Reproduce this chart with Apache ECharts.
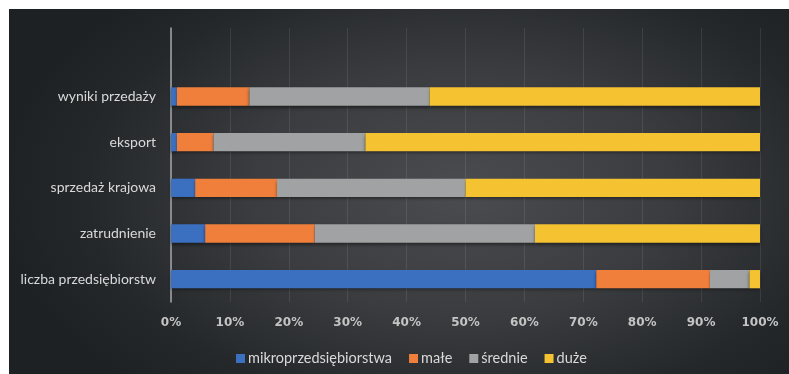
<!DOCTYPE html>
<html><head><meta charset="utf-8">
<script src="https://cdn.jsdelivr.net/npm/echarts@6/dist/echarts.min.js"></script>
<style>
html,body{margin:0;padding:0;background:#fff;}
#bg{position:absolute;left:9px;top:9px;width:780px;height:365px;
background:radial-gradient(ellipse 60% 75% at 58% 50%, #4a4c4f 0%, #3a3c3f 45%, #25282b 80%, #1d2124 100%);}
#chart{position:absolute;left:0;top:0;width:789px;height:374px;}
</style></head>
<body>
<div id="bg"></div>
<div id="chart"></div>
<script>
var categories = ['liczba przedsiębiorstw', 'zatrudnienie', 'sprzedaż krajowa', 'eksport', 'wyniki przedaży'];
var seriesNames = ['mikroprzedsiębiorstwa', 'małe', 'średnie', 'duże'];
var mikro   = [72.2, 5.8, 4.1, 1.0, 1.0];
var male    = [19.3, 18.6, 13.9, 6.2, 12.3];
var srednie = [6.7, 37.4, 32.0, 25.8, 30.6];
var duze    = [1.8, 38.2, 50.0, 67.0, 56.1];
var colors = ['#3b6fc0', '#f07f3c', '#a0a2a3', '#f5c231'];

var values = [mikro, male, srednie, duze];
var axisCats = categories.concat(['']);
var chart = echarts.init(document.getElementById('chart'), null, {renderer: 'canvas'});
chart.setOption({
  backgroundColor: 'transparent',
  animation: false,
  grid: {left: 171, right: 29, top: 28, bottom: 72, containLabel: false},
  legend: {
    left: 231, top: 346, itemWidth: 9, itemHeight: 9, itemGap: 17,
    icon: 'rect',
    textStyle: {color: '#d9d9d9', fontFamily: 'Lato', fontSize: 14.5, padding: [0, 0, 0, -2]},
    data: seriesNames
  },
  xAxis: {
    type: 'value', min: 0, max: 100, interval: 10,
    axisLine: {show: false}, axisTick: {show: false},
    splitLine: {show: true, lineStyle: {color: 'rgba(255,255,255,0.09)', width: 1}},
    axisLabel: {color: '#c4c4c4', fontFamily: 'DejaVu Sans', fontWeight: 'bold', fontSize: 12, margin: 15,
      formatter: function (v) { return v + '%'; }}
  },
  yAxis: {
    type: 'category', data: axisCats,
    axisLine: {show: true, lineStyle: {color: '#a6a6a6', width: 1.5}},
    axisTick: {show: false},
    axisLabel: {color: '#d9d9d9', fontFamily: 'Lato', fontSize: 14, margin: 15}
  },
  series: seriesNames.map(function (n, i) {
    return {
      name: n, type: 'bar', stack: 'total', barWidth: '40%',
      itemStyle: {color: colors[i], shadowColor: 'rgba(0,0,0,0.45)', shadowBlur: 3, shadowOffsetY: 2},
      data: values[i]
    };
  })
});
</script>
</body></html>
